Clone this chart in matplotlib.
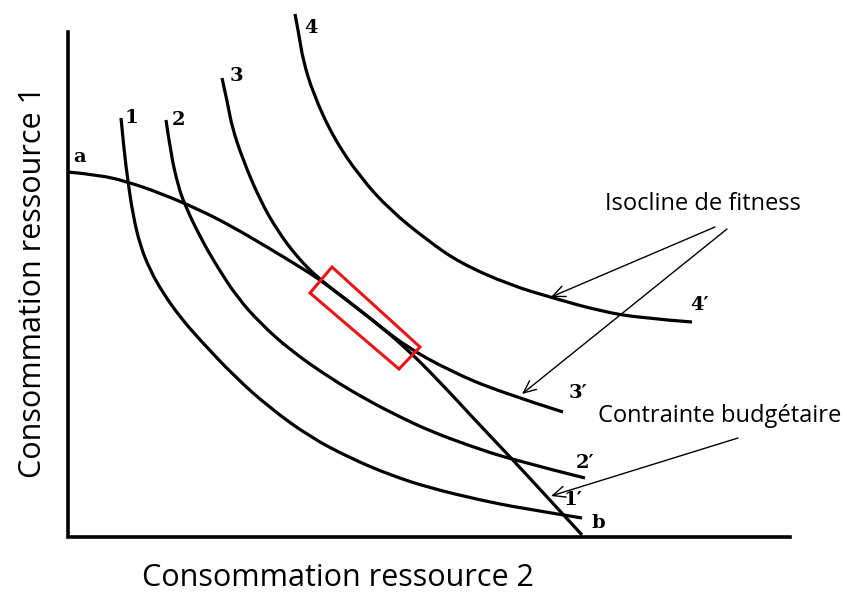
import matplotlib
matplotlib.use("Agg")
import matplotlib.pyplot as plt
from matplotlib.patches import Polygon, PathPatch
from matplotlib.path import Path

# ---- data (pixel coordinates of the drawing) ----
axis_x = [68, 68, 790]
axis_y = [32, 537, 537]

curve1_x = [121, 124, 128, 133, 140, 150, 163, 180, 200, 235, 270, 310, 350, 390, 430, 480, 520, 582]
curve1_y = [118, 150, 182, 215, 245, 270, 293, 317, 340, 377, 408, 437, 458, 475, 488, 500, 508, 518]

curve2_x = [166, 171, 178, 184, 200, 218, 237, 260, 290, 330, 367, 400, 430, 470, 513, 585]
curve2_y = [120, 155, 185, 203, 237, 268, 297, 323, 350, 378, 400, 417, 431, 446, 460, 478]

curve3_x = [222, 228, 232, 243, 260, 277, 297, 317, 340, 370, 405, 450, 500, 563]
curve3_y = [78, 105, 127, 160, 200, 230, 257, 277, 295, 318, 346, 371, 392, 412]

curve4_x = [295, 299, 303, 313, 333, 360, 390, 427, 460, 510, 553, 600, 640, 692]
curve4_y = [14, 35, 60, 93, 137, 177, 210, 240, 263, 285, 298, 311, 318, 322]

budget_x = [68, 100, 128, 160, 200, 233, 267, 300, 322, 370, 405, 440, 475, 513, 548, 582]
budget_y = [172, 175, 182, 193, 210, 227, 247, 267, 281, 318, 347, 382, 420, 460, 498, 535]

rect_x = [332, 420, 399, 310]
rect_y = [267, 347, 369, 293]

curve_labels = ["1", "2", "3", "4", "1\u2032", "2\u2032", "3\u2032", "4\u2032", "a", "b"]
label_x = [131, 178, 236, 311, 573, 585, 578, 700, 80, 598]
label_y = [118, 120, 76, 28, 500, 463, 393, 305, 157, 523]

arrow_start_x = [715, 727, 738]
arrow_start_y = [227, 229, 438]
arrow_end_x = [551, 522, 551]
arrow_end_y = [297, 394, 496]

notes = ["Isocline de fitness", "Contrainte budg\u00e9taire"]
notes_x = [703, 720]
notes_y = [204, 416]

xlabel = "Consommation ressource 2"
ylabel = "Consommation ressource 1"

# ---- drawing ----
W, H = 847, 593
fig = plt.figure(figsize=(W / 100, H / 100), dpi=100)
ax = fig.add_axes([0, 0, 1, 1])
ax.set_xlim(0, W)
ax.set_ylim(H, 0)
ax.axis("off")

ax.plot(axis_x, axis_y, color="black", lw=2.6, solid_joinstyle="miter")


def smooth_path(xs, ys):
    """Quadratic Bezier path using the read points as control points."""
    pts = list(zip(xs, ys))
    verts = [pts[0]]
    codes = [Path.MOVETO]
    for i in range(1, len(pts) - 1):
        nxt = pts[i + 1] if i + 1 == len(pts) - 1 else (
            ((pts[i][0] + pts[i + 1][0]) / 2, (pts[i][1] + pts[i + 1][1]) / 2))
        verts += [pts[i], nxt]
        codes += [Path.CURVE3, Path.CURVE3]
    if len(pts) == 2:
        verts.append(pts[1])
        codes.append(Path.LINETO)
    return Path(verts, codes)


for cx, cy in [(curve1_x, curve1_y), (curve2_x, curve2_y), (curve3_x, curve3_y),
               (curve4_x, curve4_y), (budget_x, budget_y)]:
    ax.add_patch(PathPatch(smooth_path(cx, cy), fill=False, edgecolor="black",
                           lw=2.3, capstyle="butt", joinstyle="round"))

ax.add_patch(Polygon(list(zip(rect_x, rect_y)), closed=True, fill=False,
                     edgecolor="#e8161b", lw=2.2))

for t, x, y in zip(curve_labels, label_x, label_y):
    ax.text(x, y, t, fontsize=14, fontweight="bold", family="DejaVu Serif",
            ha="center", va="center", color="black")

for sx, sy, ex, ey in zip(arrow_start_x, arrow_start_y, arrow_end_x, arrow_end_y):
    ax.annotate("", xy=(ex, ey), xytext=(sx, sy),
                arrowprops=dict(arrowstyle="->,head_length=0.9,head_width=0.4",
                                color="black", lw=1.0, shrinkA=0, shrinkB=0))

for t, x, y in zip(notes, notes_x, notes_y):
    ax.text(x, y, t, fontsize=17, family="Open Sans", ha="center",
            va="center", color="black")

ax.text(338, 578, xlabel, fontsize=22, family="Open Sans", ha="center",
        va="center", color="black")
ax.text(33, 282, ylabel, fontsize=22, family="Open Sans", ha="center",
        va="center", rotation=90, color="black")

fig.savefig("out.png", dpi=100)
